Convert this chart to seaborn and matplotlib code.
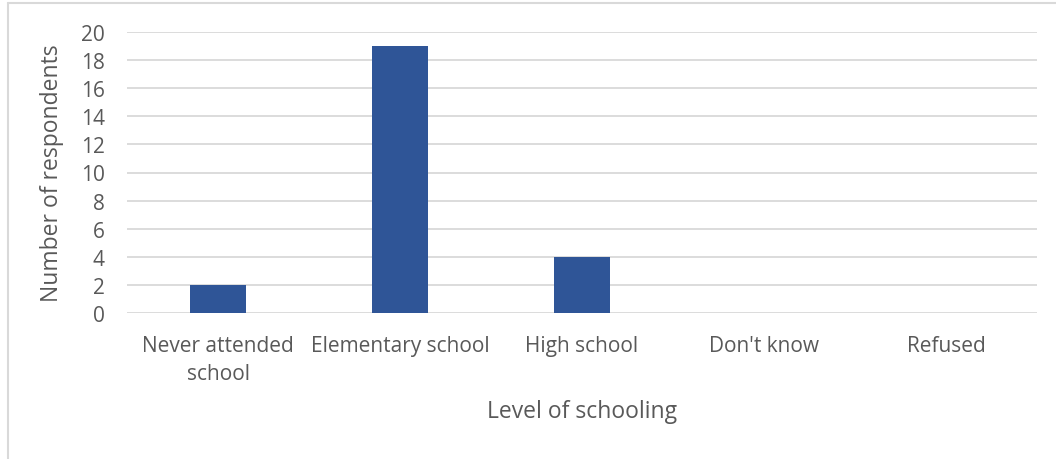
import matplotlib
matplotlib.use("Agg")
import matplotlib.pyplot as plt
import seaborn as sns
import pandas as pd
from matplotlib.lines import Line2D

categories = ["Never attended\nschool", "Elementary school", "High school", "Don't know", "Refused"]
respondents = [2, 19, 4, 0, 0]
yticks = [0, 2, 4, 6, 8, 10, 12, 14, 16, 18, 20]

sns.set_theme(style="white")
plt.rcParams["font.family"] = ["Open Sans", "DejaVu Sans"]

text_color = "#595959"
grid_color = "#D9D9D9"
bar_color = "#2F5597"

df = pd.DataFrame({"level": categories, "count": respondents})

fig = plt.figure(figsize=(10.56, 4.6), dpi=100)
ax = fig.add_axes([127 / 1056, 1 - 314 / 460, 910 / 1056, 281 / 460])

sns.barplot(data=df, x="level", y="count", color=bar_color, width=0.31,
            saturation=1, linewidth=0, ax=ax, zorder=3)

ax.set_ylim(0, 20)
ax.set_xlim(-0.5, 4.5)
ax.set_yticks(yticks)
ax.set_yticklabels([str(t) for t in yticks])
ax.yaxis.grid(True, color=grid_color, linewidth=1.3, zorder=0)
ax.set_axisbelow(True)
for s in ax.spines.values():
    s.set_visible(False)
ax.tick_params(axis="both", length=0, colors=text_color, labelsize=15)
ax.tick_params(axis="y", pad=16)
ax.tick_params(axis="x", pad=16)
for lbl in ax.get_xticklabels():
    lbl.set_linespacing(1.42)

ax.set_xlabel("Level of schooling", color=text_color, fontsize=16.5, labelpad=11)
ax.set_ylabel("Number of respondents", color=text_color, fontsize=16.5, labelpad=12)

# chart frame on the left and top edges
fig.add_artist(Line2D([7.5 / 1056, 7.5 / 1056], [0, 1 - 4 / 460], transform=fig.transFigure,
                      color=grid_color, linewidth=1.5))
fig.add_artist(Line2D([7.5 / 1056, 1], [1 - 4 / 460, 1 - 4 / 460], transform=fig.transFigure,
                      color=grid_color, linewidth=1.5))

fig.savefig("out.png", dpi=100, facecolor="white")
